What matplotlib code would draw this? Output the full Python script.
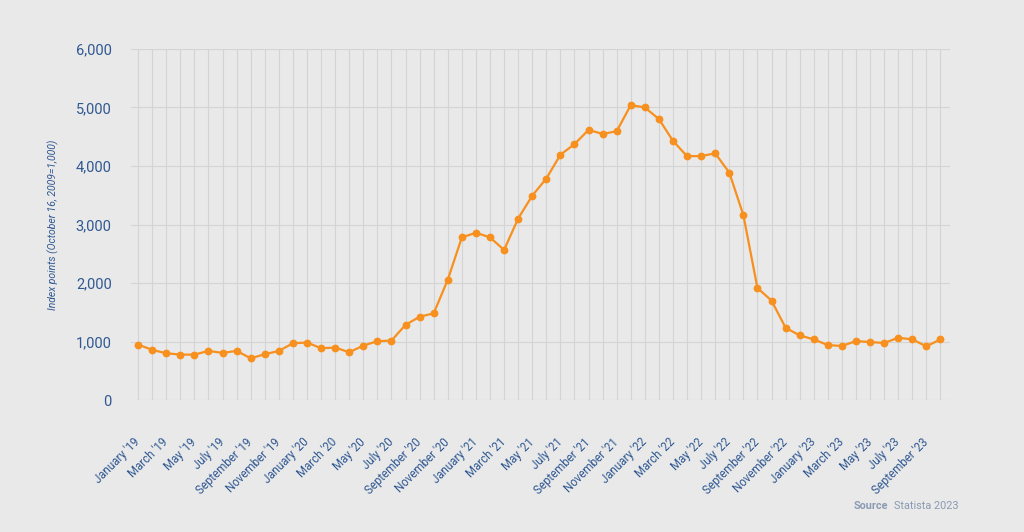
import matplotlib
matplotlib.use("Agg")
import matplotlib.pyplot as plt
import numpy as np

# monthly index values, January 2019 to October 2023
months = ["January", "February", "March", "April", "May", "June", "July",
          "August", "September", "October", "November", "December"]
years = ["19", "20", "21", "22", "23"]
values = [949, 857, 800, 777, 777, 840, 806, 840, 714, 783, 840, 971,
          983, 886, 897, 817, 931, 1006, 1017, 1285, 1424, 1482, 2056, 2780,
          2859, 2780, 2565, 3102, 3492, 3785, 4192, 4373, 4616, 4548, 4593, 5040,
          5000, 4802, 4429, 4167, 4170, 4215, 3887, 3161, 1915, 1700, 1235, 1105,
          1037, 940, 924, 1008, 992, 975, 1065, 1037, 918, 1037]
y_ticks = [0, 1000, 2000, 3000, 4000, 5000, 6000]

labels = [m + " '" + y for y in years for m in months][:len(values)]
x = np.arange(len(values))

BG = "#e9e9e9"
BLUE = "#2f5892"
ORANGE = "#f7901e"
plt.rcParams["font.family"] = ["Roboto", "DejaVu Sans"]

fig = plt.figure(figsize=(10.24, 5.32), dpi=100, facecolor=BG)
ax = fig.add_axes([0.128, 0.248, 0.8, 0.66], facecolor=BG)

ax.plot(x, values, color=ORANGE, lw=1.6, marker="o", markersize=4.6, zorder=3)

ax.set_xlim(-0.5, len(values) - 0.3)
ax.set_ylim(0, 6000)
ax.set_xticks(x)
ax.set_xticklabels([l if i % 2 == 0 else "" for i, l in enumerate(labels)],
                   rotation=45, ha="right", va="center", rotation_mode="anchor",
                   fontsize=8.3, color=BLUE)
ax.tick_params(axis="both", length=0)
ax.tick_params(axis="x", pad=29)
ax.tick_params(axis="y", pad=14)
ax.set_yticks(y_ticks)
ax.set_yticklabels([f"{v:,}" for v in y_ticks], fontsize=10.5, color=BLUE)

ax.grid(True, color="#d4d4d4", lw=0.8)
ax.set_axisbelow(True)
for s in ax.spines.values():
    s.set_visible(False)

ax.set_ylabel("Index points (October 16, 2009=1,000)", fontsize=7.5,
              style="italic", color=BLUE, labelpad=12)

fig.text(0.834, 0.043, "Source", fontsize=7.8, fontweight="bold", color="#8a9ab3")
fig.text(0.873, 0.043, "Statista 2023", fontsize=7.8, color="#8a9ab3")

fig.savefig("out.png", dpi=100, facecolor=BG)
